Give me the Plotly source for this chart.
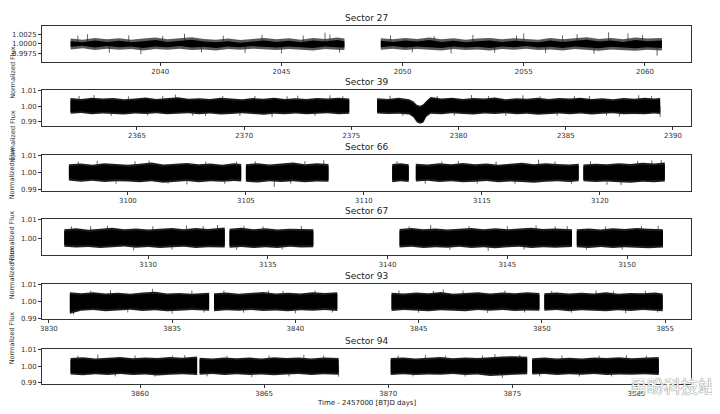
import plotly.graph_objects as go
from plotly.subplots import make_subplots

# 六个 TESS 扇区的光变曲线，按每段的上/下包络读取（BTJD 天，归一化通量）
SECTORS = ["Sector 27", "Sector 39", "Sector 66", "Sector 67", "Sector 93", "Sector 94"]

S27_T = [
    [2036.3, 2036.8, 2037.3, 2037.8, 2038.3, 2038.8, 2039.3, 2039.8, 2040.3, 2040.8, 2041.3, 2041.8,
     2042.3, 2042.8, 2043.3, 2043.8, 2044.3, 2044.8, 2045.3, 2045.8, 2046.3, 2046.8, 2047.3, 2047.6],
    [2049.1, 2049.6, 2050.1, 2050.6, 2051.1, 2051.6, 2052.1, 2052.6, 2053.1, 2053.6, 2054.1, 2054.6,
     2055.1, 2055.6, 2056.1, 2056.6, 2057.1, 2057.6, 2058.1, 2058.6, 2059.1, 2059.6, 2060.1, 2060.7],
]
S27_HI = [
    [1.0014, 1.0011, 1.0016, 1.0012, 1.0015, 1.0011, 1.0014, 1.0017, 1.0012, 1.0015, 1.0018, 1.0013,
     1.0011, 1.0014, 1.0010, 1.0013, 1.0016, 1.0012, 1.0015, 1.0011, 1.0016, 1.0013, 1.0017, 1.0014],
    [1.0015, 1.0012, 1.0016, 1.0013, 1.0017, 1.0012, 1.0015, 1.0011, 1.0014, 1.0016, 1.0012, 1.0015,
     1.0013, 1.0011, 1.0016, 1.0012, 1.0015, 1.0018, 1.0013, 1.0016, 1.0012, 1.0017, 1.0014, 1.0016],
]
S27_LO = [
    [0.9985, 0.9988, 0.9983, 0.9987, 0.9984, 0.9986, 0.9982, 0.9986, 0.9984, 0.9987, 0.9983, 0.9985,
     0.9982, 0.9986, 0.9984, 0.9987, 0.9985, 0.9983, 0.9986, 0.9984, 0.9982, 0.9986, 0.9984, 0.9983],
    [0.9984, 0.9987, 0.9983, 0.9986, 0.9984, 0.9982, 0.9986, 0.9983, 0.9985, 0.9982, 0.9986, 0.9984,
     0.9987, 0.9983, 0.9985, 0.9982, 0.9986, 0.9984, 0.9981, 0.9985, 0.9983, 0.9981, 0.9984, 0.9982],
]
S27_SPIKE_T = [2036.6, 2037.0, 2037.9, 2038.7, 2039.2, 2040.1, 2041.0, 2041.7, 2042.6, 2043.5,
               2044.2, 2045.0, 2045.9, 2046.8, 2047.0, 2047.4, 2049.5, 2050.4, 2051.3, 2052.0,
               2052.9, 2053.8, 2054.7, 2055.0, 2055.9, 2056.6, 2057.2, 2057.9, 2058.5, 2059.3,
               2059.9, 2060.5]
S27_SPIKE_F = [1.0022, 1.0026, 0.9976, 1.0023, 0.9972, 1.0021, 1.0027, 0.9977, 1.0022, 0.9975,
               1.0024, 0.9974, 1.0022, 1.0030, 1.0025, 0.9976, 1.0023, 0.9977, 1.0021, 0.9974,
               1.0024, 0.9976, 1.0022, 1.0028, 0.9975, 1.0023, 1.0026, 0.9973, 1.0031, 1.0028,
               1.0024, 0.9968]

S39_T = [
    [2361.9, 2362.4, 2362.9, 2363.4, 2363.9, 2364.4, 2364.9, 2365.4, 2365.9, 2366.4, 2366.9, 2367.4, 2367.9,
     2368.4, 2368.9, 2369.4, 2369.9, 2370.4, 2370.9, 2371.4, 2371.9, 2372.4, 2372.9, 2373.4, 2373.9, 2374.4, 2374.9],
    [2376.2, 2376.7, 2377.2, 2377.7, 2377.9, 2378.05, 2378.2, 2378.35, 2378.5, 2378.7, 2379.2, 2379.7, 2380.2,
     2380.7, 2381.2, 2381.7, 2382.2, 2382.7, 2383.2, 2383.7, 2384.2, 2384.7, 2385.2, 2385.7, 2386.2, 2386.7,
     2387.2, 2387.7, 2388.2, 2388.7, 2389.1, 2389.4],
]
S39_HI = [
    [1.0052, 1.0046, 1.0055, 1.0049, 1.0053, 1.0045, 1.0050, 1.0056, 1.0047, 1.0052, 1.0058, 1.0048, 1.0051,
     1.0046, 1.0054, 1.0049, 1.0045, 1.0052, 1.0048, 1.0055, 1.0047, 1.0051, 1.0046, 1.0053, 1.0049, 1.0055, 1.0050],
    [1.0051, 1.0047, 1.0054, 1.0044, 1.0030, 1.0008, 1.0002, 1.0012, 1.0035, 1.0060, 1.0050, 1.0055, 1.0047,
     1.0052, 1.0049, 1.0056, 1.0045, 1.0051, 1.0048, 1.0054, 1.0046, 1.0052, 1.0049, 1.0055, 1.0047, 1.0051,
     1.0045, 1.0053, 1.0048, 1.0054, 1.0050, 1.0052],
]
S39_LO = [
    [0.9950, 0.9955, 0.9947, 0.9952, 0.9949, 0.9945, 0.9951, 0.9948, 0.9953, 0.9946, 0.9950, 0.9954, 0.9947,
     0.9951, 0.9945, 0.9949, 0.9953, 0.9948, 0.9944, 0.9950, 0.9947, 0.9952, 0.9946, 0.9949, 0.9953, 0.9947, 0.9950],
    [0.9952, 0.9948, 0.9950, 0.9945, 0.9925, 0.9895, 0.9885, 0.9892, 0.9930, 0.9950, 0.9947, 0.9953, 0.9949,
     0.9945, 0.9951, 0.9948, 0.9953, 0.9946, 0.9950, 0.9944, 0.9949, 0.9952, 0.9947, 0.9951, 0.9945, 0.9950,
     0.9953, 0.9947, 0.9949, 0.9946, 0.9951, 0.9949],
]
S39_SPIKE_T = [2362.3, 2363.0, 2363.8, 2364.6, 2365.5, 2366.2, 2366.8, 2367.6, 2368.2, 2369.0,
               2369.8, 2370.5, 2371.3, 2372.0, 2372.5, 2373.3, 2374.0, 2374.6, 2376.8, 2377.4,
               2379.0, 2379.8, 2380.6, 2381.4, 2382.2, 2383.0, 2383.8, 2384.6, 2385.4, 2386.1,
               2386.9, 2387.5, 2388.4, 2389.0, 2389.4]
S39_SPIKE_F = [1.0066, 1.0072, 0.9936, 1.0064, 0.9938, 1.0067, 1.0075, 0.9937, 0.9935, 1.0065,
               0.9936, 1.0066, 0.9928, 1.0064, 1.0068, 0.9937, 1.0070, 1.0065, 1.0068, 0.9936,
               1.0066, 0.9938, 1.0072, 1.0065, 0.9936, 1.0070, 1.0064, 0.9937, 1.0066, 1.0066,
               0.9938, 0.9932, 1.0071, 1.0065, 0.9930]

S66_T = [
    [3097.5, 3098.0, 3098.5, 3099.0, 3099.5, 3100.0, 3100.5, 3101.0, 3101.5, 3102.0, 3102.5, 3103.0,
     3103.5, 3104.0, 3104.5, 3104.8],
    [3105.0, 3105.5, 3106.0, 3106.5, 3107.0, 3107.5, 3108.0, 3108.5],
    [3111.2, 3111.55, 3111.9],
    [3112.2, 3112.7, 3113.2, 3113.7, 3114.2, 3114.7, 3115.2, 3115.7, 3116.2, 3116.7, 3117.2, 3117.7,
     3118.2, 3118.7, 3119.1],
    [3119.3, 3119.8, 3120.3, 3120.8, 3121.3, 3121.8, 3122.3, 3122.75],
]
S66_HI = [
    [1.0048, 1.0053, 1.0046, 1.0055, 1.0050, 1.0045, 1.0052, 1.0058, 1.0047, 1.0051, 1.0056, 1.0049,
     1.0053, 1.0046, 1.0054, 1.0050],
    [1.0049, 1.0055, 1.0047, 1.0052, 1.0058, 1.0049, 1.0054, 1.0050],
    [1.0050, 1.0055, 1.0048],
    [1.0051, 1.0047, 1.0054, 1.0049, 1.0056, 1.0048, 1.0053, 1.0046, 1.0052, 1.0057, 1.0049, 1.0055,
     1.0050, 1.0047, 1.0052],
    [1.0047, 1.0052, 1.0049, 1.0055, 1.0050, 1.0057, 1.0053, 1.0058],
]
S66_LO = [
    [0.9955, 0.9948, 0.9953, 0.9946, 0.9951, 0.9949, 0.9944, 0.9950, 0.9942, 0.9947, 0.9952, 0.9945,
     0.9950, 0.9947, 0.9952, 0.9949],
    [0.9948, 0.9943, 0.9950, 0.9946, 0.9951, 0.9944, 0.9949, 0.9947],
    [0.9945, 0.9950, 0.9946],
    [0.9949, 0.9953, 0.9946, 0.9950, 0.9944, 0.9948, 0.9952, 0.9945, 0.9949, 0.9946, 0.9942, 0.9948,
     0.9951, 0.9946, 0.9950],
    [0.9950, 0.9946, 0.9949, 0.9944, 0.9942, 0.9947, 0.9945, 0.9949],
]
S66_SPIKE_T = [3097.9, 3098.7, 3099.5, 3100.3, 3100.9, 3101.7, 3102.5, 3103.3, 3104.1, 3104.6,
               3105.4, 3106.2, 3106.9, 3107.5, 3108.3, 3111.4, 3112.6, 3113.3, 3114.0, 3114.8,
               3115.6, 3116.4, 3117.4, 3118.1, 3118.8, 3119.6, 3120.3, 3120.9, 3121.6, 3122.2,
               3122.6]
S66_SPIKE_F = [1.0064, 1.0068, 0.9936, 1.0066, 1.0070, 0.9937, 0.9932, 1.0065, 0.9936, 1.0064,
               1.0066, 0.9918, 0.9937, 1.0066, 1.0072, 1.0066, 0.9936, 1.0065, 1.0067, 0.9937,
               1.0064, 0.9935, 1.0075, 1.0065, 0.9936, 1.0066, 0.9930, 0.9928, 1.0067, 1.0070,
               1.0072]

S67_T = [
    [3126.5, 3127.0, 3127.5, 3128.0, 3128.5, 3129.0, 3129.5, 3130.0, 3130.5, 3131.0, 3131.5, 3132.0, 3132.5, 3133.2],
    [3133.4, 3133.9, 3134.4, 3134.9, 3135.4, 3135.9, 3136.4, 3136.9],
    [3140.5, 3141.0, 3141.5, 3142.0, 3142.5, 3143.0, 3143.5, 3144.0, 3144.5, 3145.0, 3145.5, 3146.0,
     3146.5, 3147.0, 3147.7],
    [3147.9, 3148.4, 3148.9, 3149.4, 3149.9, 3150.4, 3150.9, 3151.5],
]
S67_HI = [
    [1.0048, 1.0054, 1.0046, 1.0051, 1.0057, 1.0049, 1.0053, 1.0047, 1.0052, 1.0056, 1.0048, 1.0055, 1.0050, 1.0058],
    [1.0052, 1.0057, 1.0049, 1.0054, 1.0047, 1.0052, 1.0050, 1.0048],
    [1.0050, 1.0055, 1.0048, 1.0053, 1.0047, 1.0052, 1.0056, 1.0049, 1.0054, 1.0048, 1.0051, 1.0057,
     1.0050, 1.0053, 1.0049],
    [1.0049, 1.0053, 1.0047, 1.0054, 1.0050, 1.0056, 1.0052, 1.0048],
]
S67_LO = [
    [0.9953, 0.9948, 0.9951, 0.9946, 0.9950, 0.9954, 0.9947, 0.9951, 0.9945, 0.9949, 0.9952, 0.9946, 0.9950, 0.9948],
    [0.9947, 0.9951, 0.9945, 0.9950, 0.9946, 0.9952, 0.9948, 0.9950],
    [0.9948, 0.9952, 0.9945, 0.9950, 0.9947, 0.9953, 0.9946, 0.9950, 0.9944, 0.9949, 0.9952, 0.9946,
     0.9950, 0.9947, 0.9951],
    [0.9950, 0.9946, 0.9951, 0.9945, 0.9949, 0.9947, 0.9944, 0.9948],
]
S67_SPIKE_T = [3126.8, 3127.6, 3128.3, 3129.4, 3130.2, 3131.0, 3131.6, 3132.3, 3132.9, 3133.7,
               3134.0, 3134.8, 3135.6, 3136.4, 3140.9, 3141.8, 3142.6, 3143.4, 3144.2, 3145.0,
               3145.7, 3146.2, 3147.0, 3147.5, 3148.3, 3149.1, 3149.8, 3150.6, 3151.3]
S67_SPIKE_F = [1.0064, 1.0066, 1.0068, 0.9932, 1.0065, 0.9937, 1.0070, 1.0066, 1.0072, 0.9936,
               1.0068, 1.0064, 0.9937, 1.0066, 1.0065, 1.0072, 0.9936, 1.0066, 0.9930, 1.0065,
               0.9937, 1.0070, 1.0064, 1.0066, 0.9936, 1.0065, 0.9937, 1.0066, 1.0068]

S93_T = [
    [3830.85, 3831.3, 3831.8, 3832.3, 3832.8, 3833.3, 3833.8, 3834.3, 3834.8, 3835.3, 3835.8, 3836.5],
    [3836.7, 3837.2, 3837.7, 3838.2, 3838.7, 3839.2, 3839.7, 3840.2, 3840.7, 3841.2, 3841.7],
    [3843.9, 3844.4, 3844.9, 3845.4, 3845.9, 3846.4, 3846.9, 3847.4, 3847.9, 3848.4, 3848.9, 3849.4, 3849.9],
    [3850.1, 3850.6, 3851.1, 3851.6, 3852.1, 3852.6, 3853.1, 3853.6, 3854.1, 3854.6, 3854.9],
]
S93_HI = [
    [1.0055, 1.0050, 1.0056, 1.0049, 1.0053, 1.0047, 1.0054, 1.0058, 1.0049, 1.0052, 1.0047, 1.0053],
    [1.0050, 1.0054, 1.0047, 1.0052, 1.0057, 1.0049, 1.0053, 1.0048, 1.0055, 1.0051, 1.0056],
    [1.0053, 1.0048, 1.0054, 1.0050, 1.0057, 1.0047, 1.0052, 1.0055, 1.0049, 1.0054, 1.0050, 1.0056, 1.0051],
    [1.0050, 1.0054, 1.0048, 1.0053, 1.0049, 1.0055, 1.0047, 1.0052, 1.0050, 1.0054, 1.0049],
]
S93_LO = [
    [0.9930, 0.9947, 0.9951, 0.9945, 0.9949, 0.9953, 0.9946, 0.9950, 0.9944, 0.9948, 0.9952, 0.9947],
    [0.9945, 0.9950, 0.9947, 0.9952, 0.9946, 0.9949, 0.9944, 0.9950, 0.9947, 0.9952, 0.9946],
    [0.9946, 0.9951, 0.9947, 0.9944, 0.9950, 0.9948, 0.9945, 0.9951, 0.9947, 0.9952, 0.9946, 0.9949, 0.9947],
    [0.9947, 0.9951, 0.9945, 0.9950, 0.9948, 0.9944, 0.9950, 0.9946, 0.9951, 0.9947, 0.9945],
]
S93_SPIKE_T = [3831.0, 3831.7, 3832.5, 3833.2, 3834.2, 3835.0, 3835.8, 3836.3, 3837.1, 3837.9,
               3838.9, 3839.5, 3840.0, 3840.8, 3841.5, 3844.2, 3845.0, 3845.6, 3846.0, 3846.8,
               3847.8, 3848.5, 3849.3, 3850.4, 3851.2, 3852.2, 3852.9, 3853.4, 3854.2, 3854.7]
S93_SPIKE_F = [0.9925, 1.0065, 1.0068, 0.9937, 1.0075, 0.9930, 1.0065, 0.9937, 1.0066, 0.9936,
               1.0066, 1.0064, 0.9932, 1.0065, 0.9937, 1.0066, 0.9936, 1.0064, 1.0072, 1.0065,
               0.9934, 1.0066, 0.9937, 1.0064, 0.9936, 1.0066, 1.0064, 0.9933, 1.0065, 0.9937]

S94_T = [
    [3857.2, 3857.7, 3858.2, 3858.7, 3859.2, 3859.7, 3860.2, 3860.7, 3861.2, 3861.7, 3862.3],
    [3862.4, 3862.9, 3863.4, 3863.9, 3864.4, 3864.9, 3865.4, 3865.9, 3866.4, 3866.9, 3867.4, 3868.0],
    [3870.1, 3870.6, 3871.1, 3871.6, 3872.1, 3872.6, 3873.1, 3873.6, 3874.1, 3874.6, 3875.1, 3875.6],
    [3875.8, 3876.3, 3876.8, 3877.3, 3877.8, 3878.3, 3878.8, 3879.3, 3879.8, 3880.3, 3880.9],
]
S94_HI = [
    [1.0050, 1.0055, 1.0048, 1.0053, 1.0057, 1.0049, 1.0054, 1.0050, 1.0056, 1.0052, 1.0060],
    [1.0052, 1.0048, 1.0054, 1.0049, 1.0053, 1.0047, 1.0055, 1.0050, 1.0053, 1.0048, 1.0054, 1.0051],
    [1.0050, 1.0054, 1.0048, 1.0053, 1.0056, 1.0049, 1.0054, 1.0050, 1.0057, 1.0060, 1.0062, 1.0058],
    [1.0049, 1.0053, 1.0047, 1.0052, 1.0048, 1.0054, 1.0050, 1.0055, 1.0049, 1.0053, 1.0056],
]
S94_LO = [
    [0.9948, 0.9944, 0.9950, 0.9946, 0.9951, 0.9945, 0.9949, 0.9943, 0.9947, 0.9950, 0.9946],
    [0.9947, 0.9951, 0.9945, 0.9950, 0.9946, 0.9949, 0.9944, 0.9948, 0.9951, 0.9946, 0.9950, 0.9947],
    [0.9946, 0.9950, 0.9945, 0.9949, 0.9947, 0.9951, 0.9945, 0.9948, 0.9940, 0.9946, 0.9948, 0.9950],
    [0.9948, 0.9951, 0.9946, 0.9950, 0.9947, 0.9952, 0.9946, 0.9949, 0.9947, 0.9950, 0.9945],
]
S94_SPIKE_T = [3857.5, 3858.3, 3859.0, 3859.8, 3860.6, 3861.3, 3861.8, 3862.7, 3863.5, 3864.5,
               3865.2, 3866.0, 3866.6, 3867.4, 3868.0, 3870.4, 3871.0, 3871.5, 3872.3, 3873.1,
               3873.8, 3874.3, 3874.6, 3875.3, 3876.1, 3877.0, 3877.7, 3878.5, 3879.0, 3879.6,
               3880.4]
S94_SPIKE_F = [1.0065, 1.0072, 0.9937, 1.0066, 0.9936, 1.0065, 1.0068, 0.9937, 1.0064, 0.9932,
               1.0066, 0.9937, 1.0070, 1.0065, 0.9935, 1.0066, 0.9937, 1.0068, 1.0065, 0.9936,
               1.0066, 1.0075, 0.9928, 1.0070, 0.9937, 1.0066, 0.9936, 1.0065, 0.9937, 1.0068,
               1.0065]

# 坐标轴范围与刻度
X_RANGES = [[2035.12, 2061.9], [2360.57, 2390.84], [3096.36, 3123.86],
            [3125.57, 3152.67], [3829.72, 3856.05], [3856.05, 3882.2]]
Y_RANGES = [[0.9951, 1.0048], [0.987, 1.0105], [0.9894, 1.0102],
            [0.9907, 1.0105], [0.9899, 1.0104], [0.9890, 1.0106]]
Y_TICKS = [[0.9975, 1.0, 1.0025], [0.99, 1.0, 1.01], [0.99, 1.0, 1.01],
           [1.0, 1.01], [0.99, 1.0, 1.01], [0.99, 1.0, 1.01]]
Y_TICKTEXT = [["0.9975", "1.0000", "1.0025"], ["0.99", "1.00", "1.01"], ["0.99", "1.00", "1.01"],
              ["1.00", "1.01"], ["0.99", "1.00", "1.01"], ["0.99", "1.00", "1.01"]]
# 外层稀疏噪声带的宽度（通量单位）与颜色，内层为实心黑带
FUZZ = [0.0007, 0.0011, 0.0011, 0.0011, 0.0011, 0.0011]
FUZZ_COLOR = ["#5a5a5a", "#1e1e1e", "#1e1e1e", "#1e1e1e", "#1e1e1e", "#1e1e1e"]

DATA = [(S27_T, S27_HI, S27_LO, S27_SPIKE_T, S27_SPIKE_F),
        (S39_T, S39_HI, S39_LO, S39_SPIKE_T, S39_SPIKE_F),
        (S66_T, S66_HI, S66_LO, S66_SPIKE_T, S66_SPIKE_F),
        (S67_T, S67_HI, S67_LO, S67_SPIKE_T, S67_SPIKE_F),
        (S93_T, S93_HI, S93_LO, S93_SPIKE_T, S93_SPIKE_F),
        (S94_T, S94_HI, S94_LO, S94_SPIKE_T, S94_SPIKE_F)]

# 每个面板的纵向像素位置（上, 下），图区 26–384 px（页面 body 有 8px 边距）
PANEL_PX = [(26, 62), (90, 126), (155, 191), (219, 255), (284, 319), (349, 384)]
TOP, BOT = 26, 384
FONT = "DejaVu Sans"


def band(ts, his, los, shrink=0.0):
    xs, ys = [], []
    for t, hi, lo in zip(ts, his, los):
        xs += t + t[::-1] + [None]
        ys += [h - shrink for h in hi] + [l + shrink for l in lo[::-1]] + [None]
    return xs, ys


fig = make_subplots(rows=6, cols=1)

for i, (ts, his, los, st, sf) in enumerate(DATA):
    row = i + 1
    xs, ys = band(ts, his, los)
    fig.add_trace(go.Scatter(x=xs, y=ys, mode="lines", fill="toself", fillcolor=FUZZ_COLOR[i],
                             line=dict(width=0), showlegend=False,
                             hoverinfo="skip"), row=row, col=1)
    # 离群点：从均值 1.0 画到该点的细竖线
    sx, sy = [], []
    for t, f in zip(st, sf):
        sx += [t, t, None]
        sy += [1.0, f, None]
    fig.add_trace(go.Scatter(x=sx, y=sy, mode="lines", line=dict(color="#222", width=0.7),
                             showlegend=False, hoverinfo="skip"), row=row, col=1)
    xs, ys = band(ts, his, los, FUZZ[i])
    fig.add_trace(go.Scatter(x=xs, y=ys, mode="lines", fill="toself", fillcolor="black",
                             line=dict(width=0), showlegend=False,
                             hoverinfo="skip"), row=row, col=1)

    top_px, bot_px = PANEL_PX[i]
    dom = [(BOT - bot_px) / (BOT - TOP), (BOT - top_px) / (BOT - TOP)]
    axis_common = dict(showline=True, mirror=True, linecolor="#333", linewidth=1, automargin=False,
                       ticks="outside", ticklen=3, tickcolor="#333", showgrid=False, zeroline=False,
                       tickfont=dict(family=FONT, size=7, color="#333"))
    fig.update_xaxes(range=X_RANGES[i], dtick=5, tick0=0, row=row, col=1, **axis_common)
    fig.update_yaxes(range=Y_RANGES[i], tickvals=Y_TICKS[i], ticktext=Y_TICKTEXT[i],
                     domain=dom, row=row, col=1, **axis_common)
    fig.add_annotation(text=SECTORS[i], xref="paper", yref="paper", x=0.5,
                       y=dom[1], yshift=1, yanchor="bottom", showarrow=False,
                       font=dict(family=FONT, size=9, color="#222"))
    fig.add_annotation(text="Normalized Flux", xref="paper", yref="paper", x=-0.055,
                       y=(dom[0] + dom[1]) / 2, textangle=-90, showarrow=False,
                       font=dict(family=FONT, size=6.5, color="#333"))

fig.add_annotation(text="Time - 2457000 [BTJD days]", xref="paper", yref="paper", x=0.5,
                   y=-0.035, yanchor="top", showarrow=False,
                   font=dict(family=FONT, size=7, color="#222"))
# 水印
fig.add_annotation(text="勇盼科技站", xref="paper", yref="paper", x=1.04, y=-0.005,
                   xanchor="right", yanchor="middle", showarrow=False,
                   font=dict(family="Noto Sans CJK SC", size=17, color="white",
                             shadow="0px 0px 1px #777, 0px 0px 1px #777"))

# 页面 body 默认 8px 边距，故整体尺寸与边距各减 8
fig.update_layout(width=712, height=406, margin=dict(l=34, r=29, t=18, b=30, autoexpand=False),
                  plot_bgcolor="white", paper_bgcolor="white")

fig.write_html("out.html")
